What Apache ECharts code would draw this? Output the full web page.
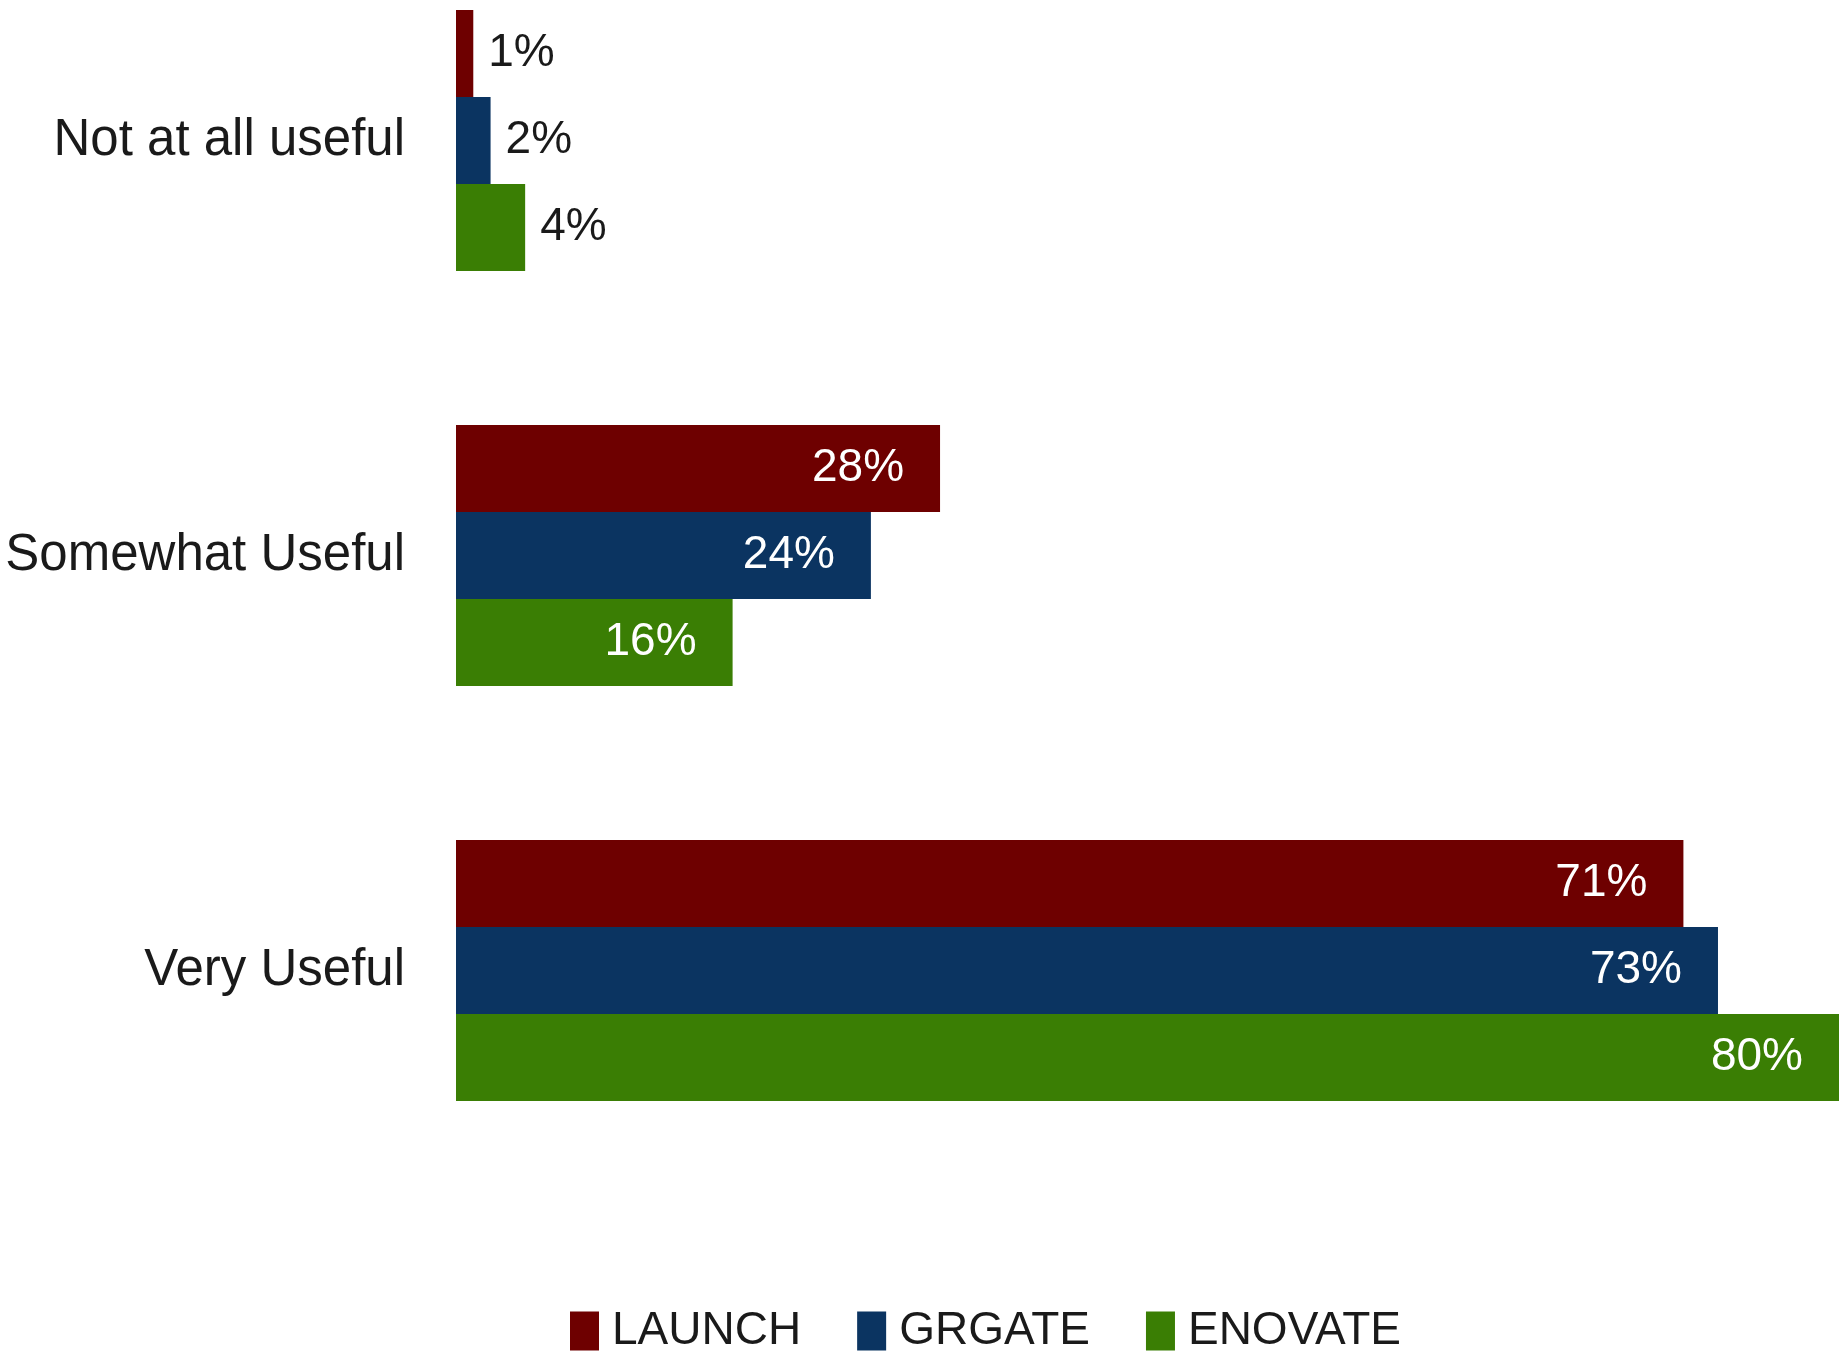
<!DOCTYPE html>
<html><head><meta charset="utf-8">
<script src="https://cdn.jsdelivr.net/npm/echarts@6/dist/echarts.min.js"></script>
<style>html,body{margin:0;padding:0;background:#fff}#c{width:1839px;height:1353px}</style>
</head><body><div id="c"></div>
<script>
const categories = ['Not at all useful', 'Somewhat Useful', 'Very Useful'];
const seriesNames = ['LAUNCH', 'GRGATE', 'ENOVATE'];
const launch = [1, 28, 71];
const grgate = [2, 24, 73];
const enovate = [4, 16, 80];
const colors = ['#6E0000', '#0B3461', '#3A7E04'];
const FONT = '"Liberation Sans", Arial, sans-serif';

const chart = echarts.init(document.getElementById('c'));
function mk(name, data, color) {
  return {
    name, type: 'bar', barWidth: 87, barGap: '0%',
    itemStyle: { color },
    label: {
      show: true,
      formatter: p => p.value + '%',
      position: 'insideRight', distance: 36,
      color: '#ffffff', fontFamily: FONT, fontSize: 46
    },
    data: data.map(v => v < 10 ? { value: v, label: { position: 'right', distance: 15, color: '#1a1a1a' } } : v)
  };
}
const series = seriesNames.map((n, i) => mk(n, [launch, grgate, enovate][i], colors[i]));
chart.setOption({
  animation: false,
  color: colors,
  grid: { left: 456, right: 0, top: -67, height: 1245, outerBoundsMode: 'none', containLabel: false },
  xAxis: { type: 'value', min: 0, max: 80, show: false },
  yAxis: {
    type: 'category', data: categories, inverse: true,
    axisLine: { show: false }, axisTick: { show: false },
    axisLabel: { margin: 51, color: '#1a1a1a', fontFamily: FONT, fontSize: 51 }
  },
  legend: {
    data: seriesNames, left: 565, top: 1303, icon: 'rect',
    itemWidth: 29, itemHeight: 39, itemGap: 56,
    textStyle: { color: '#1a1a1a', fontFamily: FONT, fontSize: 46, padding: [0, 0, 0, 8] }
  },
  series
});
</script></body></html>
